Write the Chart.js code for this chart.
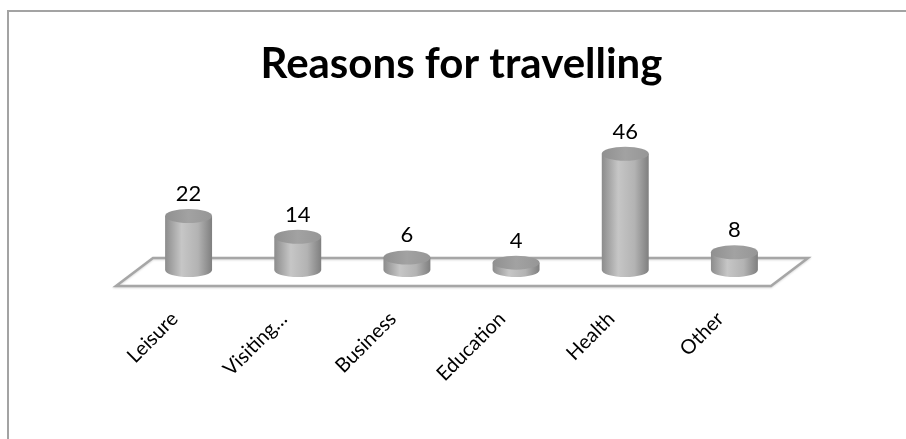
<!DOCTYPE html>
<html>
<head>
<meta charset="utf-8">
<script src="https://cdn.jsdelivr.net/npm/chart.js@4.4.1/dist/chart.umd.min.js"></script>
<style>
  html, body { margin: 0; padding: 0; background: #fff; }
  canvas { display: block; }
</style>
</head>
<body>
<canvas id="grafico" width="906" height="439"></canvas>
<script>
var motivos = ['Leisure', 'Visiting…', 'Business', 'Education', 'Health', 'Other'];
var percentuais = [22, 14, 6, 4, 46, 8];
var escalaMax = 50;

// moldura cinza do gráfico (só topo e esquerda aparecem)
var moldura = {
    id: 'moldura',
    beforeDraw: function (chart) {
        var ctx = chart.ctx;
        ctx.save();
        ctx.strokeStyle = '#a3a3a3';
        ctx.lineWidth = 2;
        ctx.beginPath();
        ctx.moveTo(8, chart.height);
        ctx.lineTo(8, 11);
        ctx.lineTo(chart.width, 11);
        ctx.stroke();
        ctx.restore();
    }
};

// piso em perspectiva + cilindros
var cilindros = {
    id: 'cilindros',
    afterDatasetsDraw: function (chart) {
        var ctx = chart.ctx;
        var area = chart.chartArea;
        var zero = chart.scales.y.getPixelForValue(0);
        var meta = chart.getDatasetMeta(0);
        ctx.save();

        // piso
        ctx.beginPath();
        ctx.moveTo(area.left - 18, zero + 13);
        ctx.lineTo(area.left + 19, zero - 15);
        ctx.lineTo(area.right + 19, zero - 15);
        ctx.lineTo(area.right - 18, zero + 13);
        ctx.closePath();
        ctx.fillStyle = '#ffffff';
        ctx.fill();
        ctx.shadowColor = 'rgba(0,0,0,0.15)';
        ctx.shadowBlur = 2;
        ctx.shadowOffsetY = 1;
        ctx.strokeStyle = '#a6a6a6';
        ctx.lineWidth = 2.5;
        ctx.stroke();
        ctx.shadowColor = 'transparent';

        meta.data.forEach(function (bar, i) {
            var x = bar.x;
            var rx = bar.width / 2;
            var ry = 7;
            var topo = bar.y;
            var base = bar.base - 3;

            var grad = ctx.createLinearGradient(x - rx, 0, x + rx, 0);
            grad.addColorStop(0, '#8c8c8c');
            grad.addColorStop(0.35, '#c6c6c6');
            grad.addColorStop(0.7, '#b3b3b3');
            grad.addColorStop(1, '#7f7f7f');

            ctx.beginPath();
            ctx.moveTo(x - rx, topo);
            ctx.lineTo(x - rx, base);
            ctx.ellipse(x, base, rx, ry, 0, Math.PI, 0, true);
            ctx.lineTo(x + rx, topo);
            ctx.closePath();
            ctx.fillStyle = grad;
            ctx.fill();

            var gradTopo = ctx.createLinearGradient(x - rx, 0, x + rx, 0);
            gradTopo.addColorStop(0, '#909090');
            gradTopo.addColorStop(0.5, '#a2a2a2');
            gradTopo.addColorStop(1, '#969696');
            ctx.beginPath();
            ctx.ellipse(x, topo, rx, ry, 0, 0, Math.PI * 2);
            ctx.fillStyle = gradTopo;
            ctx.fill();

            // rótulo do valor
            ctx.fillStyle = '#000000';
            ctx.font = '22px Lato';
            ctx.textAlign = 'center';
            ctx.textBaseline = 'alphabetic';
            ctx.fillText(String(percentuais[i]), x, topo - ry - 8);
        });
        ctx.restore();
    }
};

new Chart(document.getElementById('grafico'), {
    type: 'bar',
    data: {
        labels: motivos,
        datasets: [{
            label: 'Reasons',
            data: percentuais,
            backgroundColor: 'rgba(0,0,0,0)',
            barPercentage: 0.43,
            categoryPercentage: 1
        }]
    },
    options: {
        responsive: false,
        animation: false,
        layout: {
            padding: { left: 134, right: 117, top: 0, bottom: 0 }
        },
        plugins: {
            legend: { display: false },
            tooltip: { enabled: false },
            title: {
                display: true,
                text: 'Reasons for travelling',
                color: '#000000',
                font: { family: 'Lato', size: 42, weight: 'bold' },
                padding: { top: 39, bottom: 54 }
            }
        },
        scales: {
            x: {
                grid: { display: false, drawTicks: false },
                border: { display: false },
                ticks: {
                    color: '#000000',
                    font: { family: 'Lato', size: 20 },
                    maxRotation: 45,
                    minRotation: 45,
                    padding: 34,
                    labelOffset: -14
                },
                afterFit: function (axis) {
                    axis.height = 166;
                }
            },
            y: {
                display: false,
                min: 0,
                max: escalaMax
            }
        }
    },
    plugins: [moldura, cilindros]
});
</script>
</body>
</html>
